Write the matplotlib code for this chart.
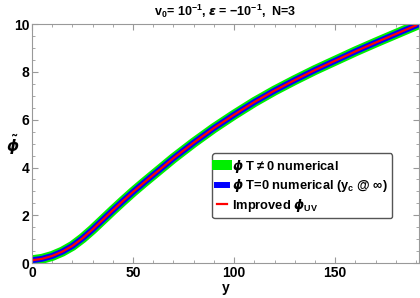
import matplotlib
matplotlib.use('Agg')
import matplotlib.pyplot as plt
from matplotlib.ticker import MultipleLocator

# curve (y, phi)
y_vals = [0, 5, 10, 15, 20, 25, 30, 35, 40, 45, 50, 55, 60, 70, 80, 90, 100,
          110, 120, 130, 140, 150, 160, 170, 180, 190]
phi_vals = [0.12, 0.18, 0.3, 0.48, 0.72, 1.04, 1.41, 1.81, 2.21, 2.6, 2.98, 3.34, 3.69,
            4.39, 5.04, 5.65, 6.21, 6.74, 7.22, 7.66, 8.08, 8.47, 8.86, 9.23, 9.59, 9.95]

labels = [r'$\phi$ T$\neq$0 numerical',
          r'$\phi$ T=0 numerical (y$_{\rm c}$ @ $\infty$)',
          r'Improved $\phi_{\rm UV}$']

plt.rcParams['font.family'] = 'Liberation Sans'
plt.rcParams['font.weight'] = 'bold'
plt.rcParams['axes.titleweight'] = 'bold'
plt.rcParams['axes.labelweight'] = 'bold'
plt.rcParams['mathtext.fontset'] = 'custom'
plt.rcParams['mathtext.rm'] = 'Liberation Sans:bold'
plt.rcParams['mathtext.it'] = 'DejaVu Sans:italic:bold'
plt.rcParams['mathtext.bf'] = 'Liberation Sans:bold'

fig = plt.figure(figsize=(4.2, 2.98), dpi=100)
ax = fig.add_axes([0.076, 0.117, 0.922, 0.802])

ax.plot(y_vals, phi_vals, color='#00ee00', lw=7.2, label=labels[0])
ax.plot(y_vals, phi_vals, color='#0000ff', lw=4.3, label=labels[1])
ax.plot(y_vals, phi_vals, color='#ff0000', lw=1.6, label=labels[2])

ax.set_xlim(0, 191.5)
ax.set_ylim(0, 10)
ax.xaxis.set_major_locator(MultipleLocator(50))
ax.xaxis.set_minor_locator(MultipleLocator(10))
ax.yaxis.set_major_locator(MultipleLocator(2))
ax.yaxis.set_minor_locator(MultipleLocator(0.5))
ax.tick_params(which='both', direction='in', top=True, right=True, color='#999999', labelsize=10, pad=2)
ax.tick_params(which='major', length=4)
ax.tick_params(which='minor', length=2)
for s in ax.spines.values():
    s.set_color('#999999')

ax.set_xlabel('y', fontsize=10, labelpad=1)
ax.set_ylabel(r'$\tilde{\phi}$', fontsize=11, rotation=0)
ax.yaxis.set_label_coords(-0.05, 0.45)
ax.set_title(r'v$_0$= 10$^{-1}$, $\epsilon$ = $-$10$^{-1}$,  N=3', fontsize=9, pad=6)

leg = ax.legend(loc='lower left', bbox_to_anchor=(0.465, 0.188), fontsize=9.3, handlelength=0.8,
                handletextpad=0.4, labelspacing=0.2, borderpad=0.35, borderaxespad=0,
                framealpha=1, fancybox=True)
leg.get_frame().set_edgecolor('#555555')

plt.savefig('out.png', dpi=100)
